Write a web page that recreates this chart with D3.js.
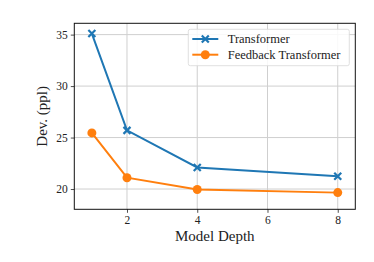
<!DOCTYPE html>
<html>
<head>
<meta charset="utf-8">
<script src="https://cdn.jsdelivr.net/npm/d3@7"></script>
<style>
  body { margin: 0; background: #fff; }
  svg text { font-family: "Liberation Serif", serif !important; fill: #222; }
</style>
</head>
<body>
<svg id="chart" width="374" height="262" font-family="Liberation Serif"></svg>
<script>
// data
var depths = [1, 2, 4, 8];
var transformer = [35.1, 25.7, 22.1, 21.25];
var feedback = [25.45, 21.1, 19.95, 19.65];
var xTicks = [2, 4, 6, 8];
var yTicks = [20, 25, 30, 35];
var seriesNames = ['Transformer', 'Feedback Transformer'];

var margin = {left: 74.3, top: 23.3, right: 355.3, bottom: 209.3};
var svg = d3.select('#chart');

var x = d3.scaleLinear().domain([0.5, 8.5]).range([margin.left, margin.right]);
var y = d3.scaleLinear().domain([18.03, 36.1]).range([margin.bottom, margin.top]);

// grid
var grid = svg.append('g');
grid.selectAll('line.gx').data(xTicks).enter().append('line')
  .attr('x1', d => x(d)).attr('x2', d => x(d))
  .attr('y1', margin.top).attr('y2', margin.bottom)
  .style('stroke', '#cfcfcf').style('stroke-width', 1);
grid.selectAll('line.gy').data(yTicks).enter().append('line')
  .attr('y1', d => y(d)).attr('y2', d => y(d))
  .attr('x1', margin.left).attr('x2', margin.right)
  .style('stroke', '#cfcfcf').style('stroke-width', 1);

// axes
var xAxis = svg.append('g')
  .attr('transform', 'translate(0,' + margin.bottom + ')')
  .call(d3.axisBottom(x).tickValues(xTicks).tickSize(3.5).tickPadding(3).tickFormat(d3.format('d')));
var yAxis = svg.append('g')
  .attr('transform', 'translate(' + margin.left + ',0)')
  .call(d3.axisLeft(y).tickValues(yTicks).tickSize(3.5).tickPadding(3).tickFormat(d3.format('d')));
[xAxis, yAxis].forEach(function(a) {
  a.attr('font-family', 'Liberation Serif').attr('font-size', 11.5);
  a.select('.domain').remove();
  a.selectAll('line').style('stroke', '#222').style('stroke-width', 0.8);
  a.selectAll('text').attr('fill', '#222');
});

// frame
svg.append('rect')
  .attr('x', margin.left).attr('y', margin.top)
  .attr('width', margin.right - margin.left).attr('height', margin.bottom - margin.top)
  .style('fill', 'none').style('stroke', '#111').style('stroke-width', 1);

// axis labels
svg.append('text')
  .attr('x', (margin.left + margin.right) / 2).attr('y', 241)
  .attr('text-anchor', 'middle').style('font-size', '15px')
  .text('Model Depth');
svg.append('text')
  .attr('transform', 'translate(47,' + (margin.top + margin.bottom) / 2 + ') rotate(-90)')
  .attr('text-anchor', 'middle').style('font-size', '15px')
  .text('Dev. (ppl)');

var line = d3.line().x(d => x(d[0])).y(d => y(d[1]));
var blue = '#1f77b4', orange = '#ff7f0e';

function cross(g, cx, cy, r, color) {
  g.append('path')
    .attr('d', 'M' + (cx - r) + ',' + (cy - r) + 'L' + (cx + r) + ',' + (cy + r) +
               'M' + (cx - r) + ',' + (cy + r) + 'L' + (cx + r) + ',' + (cy - r))
    .style('stroke', color).style('stroke-width', 2.2).style('fill', 'none');
}

// Transformer
var tData = depths.map((d, i) => [d, transformer[i]]);
svg.append('path').datum(tData).attr('d', line)
  .style('fill', 'none').style('stroke', blue).style('stroke-width', 2);
var tg = svg.append('g');
tData.forEach(d => cross(tg, x(d[0]), y(d[1]), 3.5, blue));

// Feedback Transformer
var fData = depths.map((d, i) => [d, feedback[i]]);
svg.append('path').datum(fData).attr('d', line)
  .style('fill', 'none').style('stroke', orange).style('stroke-width', 2);
svg.selectAll('circle.fb').data(fData).enter().append('circle')
  .attr('cx', d => x(d[0])).attr('cy', d => y(d[1])).attr('r', 4.5)
  .style('fill', orange);

// legend
var lg = svg.append('g');
lg.append('rect')
  .attr('x', 188.3).attr('y', 29.3).attr('width', 161).attr('height', 36.4).attr('rx', 2)
  .style('fill', 'rgba(255,255,255,0.85)').style('stroke', '#d8d8d8').style('stroke-width', 0.8);
var rows = [39, 54.7];
seriesNames.forEach(function(name, i) {
  var color = i === 0 ? blue : orange;
  lg.append('line').attr('x1', 192.3).attr('x2', 218.3).attr('y1', rows[i]).attr('y2', rows[i])
    .style('stroke', color).style('stroke-width', 2);
  if (i === 0) cross(lg, 205.3, rows[i], 3.5, color);
  else lg.append('circle').attr('cx', 205.3).attr('cy', rows[i]).attr('r', 4.5).style('fill', color);
  lg.append('text').attr('x', 227.7).attr('y', rows[i] + 4)
    .style('font-size', '12.5px').text(name);
});
</script>
</body>
</html>
